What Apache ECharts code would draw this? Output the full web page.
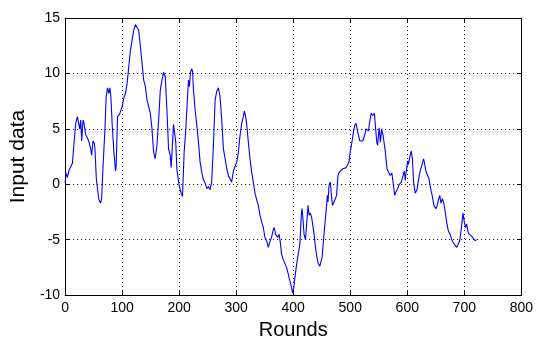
<!DOCTYPE html>
<html>
<head>
<meta charset="UTF-8">
<title>Input data</title>
<script src="https://cdn.jsdelivr.net/npm/echarts@6/dist/echarts.min.js"></script>
<style>
  html, body { margin: 0; padding: 0; background: #fff; }
</style>
</head>
<body>
<div id="main" style="width:536px;height:345px;"></div>
<script type="text/javascript">
// rounds (x) and input values (y)
var rounds = [
  0, 1.5, 4, 7, 10, 12.8, 15.7, 18.6, 21.5, 22.7, 25.6, 27.3, 29, 31.4, 33.1, 36, 39, 41.9, 44.8, 46.5,
  48.8, 51.2, 52.3, 54.7, 57, 59.3, 62.2, 64, 66.3, 69.8, 72, 74.4, 76.7, 78.5, 80.2, 82.6, 85.5, 88.4, 89.5, 91.9,
  95.3, 97.7, 100, 103, 105.8, 108.7, 111.6, 114.5, 117.4, 120.3, 123.3, 126.2, 129, 132, 134.9, 137.8, 140.7, 143.6, 146.5, 149.4,
  152.3, 155.2, 158, 161, 164, 166.9, 169.8, 172.7, 175.6, 178.5, 181.4, 184.3, 186, 188.4, 190, 191.9, 194, 196, 200, 203.5,
  205.8, 208.7, 211.7, 214, 216.3, 218, 219.8, 222, 223.5, 225, 228, 231, 233.8, 236.7, 239.6, 242.6, 245.5, 248.4, 251.3, 254,
  257, 260, 263, 265.9, 268.8, 271.7, 274.6, 277.6, 280.5, 283.4, 286.3, 289, 292, 295, 298, 300.9, 303.8, 306.7, 309.6, 312.5,
  314.3, 316.6, 318.4, 321.3, 324.2, 327.1, 330, 333, 335.9, 338.8, 341.7, 344.6, 347.5, 350.4, 353.4, 356.3, 359, 362, 365, 366.8,
  369, 372.6, 375, 377, 379.6, 382.5, 385.4, 388.3, 391.3, 394, 397, 398.8, 401, 403, 406, 408.7, 411.6, 414.5, 415.7, 417.4,
  419, 421.5, 423.8, 426, 427.9, 429.6, 432, 434.9, 436.6, 439, 441.3, 443.6, 446.5, 448, 450.6, 453, 455, 458, 460, 461,
  462.8, 465, 467, 469, 471.5, 474, 476, 478.5, 480.8, 484, 487, 490, 493, 496, 497.7, 500, 502.9, 505, 507.6, 509.9,
  512, 514.5, 517, 519, 522, 525, 528, 529.7, 532, 533.7, 536.6, 539.5, 542.4, 544, 546.5, 548, 550.6, 552.9, 555, 557.6,
  560, 561.6, 564.5, 567, 570, 573, 576, 578, 580, 584,
  586, 589.5, 592, 594.8, 596.5, 598, 600.6, 602, 605, 607,
  609, 611, 614, 617, 620, 622.7, 625.6, 628.5, 630, 632.6,
  636, 638, 641, 644, 646.5, 650, 652, 654.7, 657, 659,
  661.6, 664, 666, 669, 672, 675, 678, 681, 684, 686.6,
  689.5, 692, 695, 697.7, 700, 702, 704, 707, 710, 713,
  716, 719, 721.5
];
var inputData = [
  0.1, 1.0, 0.6, 1.3, 1.6, 1.9, 3.8, 5.5, 6.1, 6.2, 5.0, 5.8, 3.9, 5.8, 5.5, 4.5, 4.2, 3.8, 3.2, 2.6,
  3.9, 3.7, 3.2, 0.5, -0.5, -1.4, -1.7, -1.3, 1.4, 5.0, 7.9, 8.7, 8.2, 8.7, 7.9, 5.3, 2.9, 1.2, 1.7, 6.1,
  6.3, 6.4, 7.0, 7.8, 8.2, 9.1, 10.6, 12.1, 13.0, 13.9, 14.4, 14.5, 13.9, 12.4, 10.9, 9.4, 8.8, 7.6, 7.0, 6.4,
  5.0, 2.9, 2.3, 3.5, 5.8, 8.5, 9.4, 10.1, 9.7, 6.7, 3.2, 2.6, 1.5, 3.8, 5.4, 5.5, 3.8, 1.3, -0.1, -0.8,
  -1.1, 2.9, 5.0, 7.3, 9.4, 8.8, 10.1, 10.4, 10.2, 8.5, 6.7, 5.3, 3.8, 2.0, 1.1, 0.4, 0.1, -0.4, -0.2, -0.5,
  0.2, 3.5, 7.6, 8.4, 8.7, 7.9, 5.8, 3.2, 2.3, 1.4, 0.8, 0.65, 0.2, 1.2, 1.1, 2.0, 2.9, 4.4, 5.5, 6.1,
  6.6, 6.1, 5.4, 3.8, 2.3, 1.1, 0.2, -0.8, -1.4, -1.9, -2.8, -3.4, -3.9, -4.8, -5.1, -5.7, -5.2, -4.8, -4.1, -3.9,
  -4.5, -4.8, -4.5, -5.1, -6.3, -6.8, -6.9, -7.5, -8.1, -8.7, -9.3, -9.8, -9.3, -8.4, -7.2, -6.3, -5.4, -2.5, -2.2, -3.4,
  -4.5, -5.0, -3.4, -1.9, -2.8, -2.6, -2.9, -2.8, -4.5, -5.7, -6.5, -7.1, -7.4, -7.5, -6.6, -5.1, -3.9, -2.2, -1.0, -1.6,
  -0.1, 0.2, -1.0, -1.9, -1.6, -1.3, -1.0, 0.8, 1.1, 1.1, 1.4, 1.5, 1.5, 1.4, 2.0, 2.9, 3.8, 4.5, 5.3, 5.5,
  5.0, 4.4, 3.9, 3.8, 3.9, 4.4, 5.0, 5.1, 4.8, 5.5, 6.4, 6.2, 6.4, 5.3, 3.8, 3.5, 5.1, 3.8, 5.0, 4.4,
  4.4, 2.9, 1.4, 1.1, 0.8, 1.0, -0.2, -1.0, -0.7, -0.3,
  0, 0.2, 0.35, 1.2, 0.35, 1.1, 2.1, 1.8, 2.6, 3.0,
  2.3, 0.2, -0.8, -0.5, 0.5, 1.2, 1.7, 2.3, 2.0, 1.2,
  1.1, 0.5, -0.4, -1.1, -1.9, -2.2, -2.0, -1.4, -1.0, -1.7,
  -1.3, -1.7, -2.3, -3.4, -4.2, -4.5, -5.0, -5.3, -5.4, -5.7,
  -5.6, -5.1, -3.9, -2.6, -3.4, -3.9, -3.6, -4.4, -4.5, -4.7,
  -4.8, -5.1, -5.0
];

var xMin = 0, xMax = 800, xStep = 100;
var yMin = -10, yMax = 15, yStep = 5;

var points = rounds.map(function (r, i) { return [r, inputData[i]]; });

var labelFont = '"Liberation Sans Narrow", "Liberation Sans", Arial, sans-serif';
var nameFont = '"Liberation Sans", Arial, sans-serif';

var boxLine = { show: true, onZero: false, lineStyle: { color: '#000', width: 1 } };
var innerTick = { show: true, inside: true, length: 4, lineStyle: { color: '#000' } };
var dotted = { show: true, lineStyle: { color: '#000', width: 1, type: [1, 3] } };

var myChart = echarts.init(document.getElementById('main'));
var option = {
  animation: false,
  backgroundColor: '#fff',
  grid: { left: 64, right: 13, top: 18, bottom: 47 },
  xAxis: [
    {
      type: 'value', min: xMin, max: xMax, interval: xStep,
      position: 'bottom',
      name: 'Rounds', nameLocation: 'middle', nameGap: 19,
      nameTextStyle: { fontFamily: nameFont, fontSize: 20, color: '#000', verticalAlign: 'top' },
      axisLine: boxLine, axisTick: innerTick, splitLine: dotted,
      axisLabel: { fontFamily: labelFont, fontSize: 14, color: '#000', margin: 6 }
    },
    {
      type: 'value', min: xMin, max: xMax, interval: xStep,
      position: 'top',
      axisLine: boxLine, axisTick: innerTick, splitLine: { show: false },
      axisLabel: { show: false }
    }
  ],
  yAxis: [
    {
      type: 'value', min: yMin, max: yMax, interval: yStep,
      position: 'left',
      name: 'Input data', nameLocation: 'middle', nameGap: 34,
      nameTextStyle: { fontFamily: nameFont, fontSize: 21, color: '#000' },
      axisLine: boxLine, axisTick: innerTick, splitLine: dotted,
      axisLabel: { fontFamily: labelFont, fontSize: 14, color: '#000', margin: 5 }
    },
    {
      type: 'value', min: yMin, max: yMax, interval: yStep,
      position: 'right',
      axisLine: boxLine, axisTick: innerTick, splitLine: { show: false },
      axisLabel: { show: false }
    }
  ],
  series: [
    {
      name: 'Input data',
      type: 'line',
      xAxisIndex: 0, yAxisIndex: 0,
      data: points,
      showSymbol: false,
      symbol: 'none',
      lineStyle: { color: '#0000ff', width: 1.1 }
    }
  ]
};
myChart.setOption(option);
</script>
</body>
</html>
